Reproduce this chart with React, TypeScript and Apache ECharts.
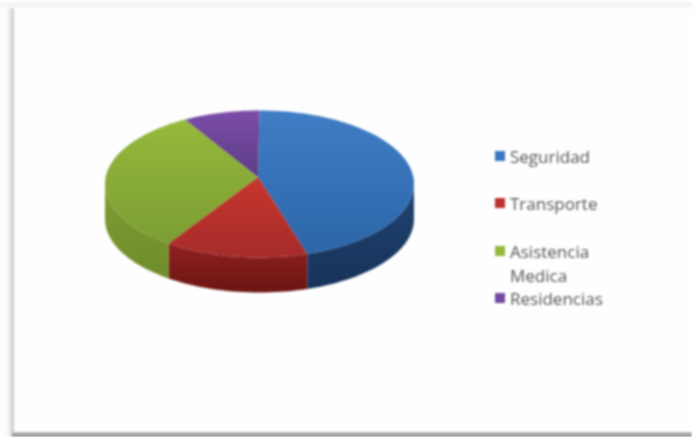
import React, { useEffect, useRef } from "react";
import * as echarts from "echarts";

const categories = ["Seguridad", "Transporte", "Asistencia Medica", "Residencias"];
const legendLabels = ["Seguridad", "Transporte", "Asistencia\nMedica", "Residencias"];
const sliceValues = [45, 15, 32, 8];
const baseColors = ["#3a78c2", "#be322d", "#94b83a", "#7449a2"];
const topLight = ["#3f7dc6", "#c8352e", "#96b93c", "#7b4ca8"];
const topDark = ["#2c66a8", "#a62c2a", "#7c9d33", "#5d3d86"];
const wallLight = ["#1f4470", "#8e2120", "#7f9e32", "#4b2f6e"];
const wallDark = ["#17335a", "#6b1614", "#6f8c2b", "#3c2558"];
const legendTops = [147, 194, 239, 289];

const CX = 259.5, CY = 184, RX = 154.5, RY = 73.5, DEPTH = 35;
const APEX: [number, number] = [258, 177];
const total = sliceValues.reduce((a, b) => a + b, 0);
const rim = (deg: number, dy = 0): [number, number] => {
  const t = (deg * Math.PI) / 180;
  return [CX + RX * Math.sin(t), CY - RY * Math.cos(t) + dy];
};
const arcPoints = (a: number, b: number, dy = 0) => {
  const n = Math.max(2, Math.ceil(Math.abs(b - a) / 2));
  return Array.from({ length: n + 1 }, (_, i) => rim(a + ((b - a) * i) / n, dy));
};
const grad = (c0: string, c1: string) =>
  new echarts.graphic.LinearGradient(0, 0, 0, 1, [
    { offset: 0, color: c0 },
    { offset: 1, color: c1 },
  ]);

const makeSeries = (idx: number) => ({
  type: "custom",
  name: categories[idx],
  coordinateSystem: "none",
  silent: true,
  itemStyle: { color: baseColors[idx] },
  data: [[sliceValues[idx]]],
  renderItem: (_p: any, api: any) => {
    const before = sliceValues.slice(0, idx).reduce((a, b) => a + b, 0);
    const a0 = (before / total) * 360;
    const a1 = a0 + (api.value(0) / total) * 360;
    const children: any[] = [];
    const w0 = Math.max(a0, 90), w1 = Math.min(a1, 270);
    if (w1 > w0) {
      children.push({
        type: "polygon",
        shape: { points: [...arcPoints(w0, w1), ...arcPoints(w1, w0, DEPTH)] },
        style: { fill: grad(wallLight[idx], wallDark[idx]) },
      });
    }
    children.push({
      type: "polygon",
      shape: { points: [APEX, ...arcPoints(a0, a1)] },
      style: { fill: grad(topLight[idx], topDark[idx]) },
    });
    return { type: "group", children };
  },
});

export default function App() {
  const ref = useRef<HTMLDivElement>(null);
  useEffect(() => {
    const chart = echarts.init(ref.current!, undefined, { renderer: "svg" });
    chart.setOption({
      animation: false,
      backgroundColor: "#ffffff",
      graphic: [
        { type: "rect", z: -10, shape: { x: 0, y: 0, width: 692, height: 437 }, style: { fill: "#fcfcfc" } },
        { type: "rect", z: -9, shape: { x: 0, y: 2, width: 692, height: 6 }, style: { fill: new echarts.graphic.LinearGradient(0, 0, 0, 1, [{ offset: 0, color: "#fcfcfc" }, { offset: 0.5, color: "#f1f1f1" }, { offset: 1, color: "#fcfcfc" }]) } },
        { type: "rect", z: -8, shape: { x: 6, y: 8, width: 8, height: 429 }, style: { fill: new echarts.graphic.LinearGradient(0, 0, 1, 0, [{ offset: 0, color: "#fcfcfc" }, { offset: 0.6, color: "#e6e6e6" }, { offset: 0.85, color: "#c6c6c6" }, { offset: 1, color: "#d8d8d8" }]) } },
        { type: "rect", z: -7, shape: { x: 12, y: 432, width: 680, height: 5 }, style: { fill: new echarts.graphic.LinearGradient(0, 0, 0, 1, [{ offset: 0, color: "#cfcfcf" }, { offset: 0.5, color: "#999999" }, { offset: 1, color: "#a8a8a8" }]) } },
        { type: "rect", z: -6, shape: { x: 14, y: 8, width: 678, height: 424 }, style: { fill: "#fefefe" } },
      ],
      legend: categories.map((name, i) => {
        const twoLines = legendLabels[i].includes("\n");
        return {
          data: [name],
          orient: "vertical",
          left: 495,
          top: legendTops[i],
          itemWidth: 10,
          itemHeight: twoLines ? 34 : 10,
          itemGap: 0,
          padding: 0,
          selectedMode: false,
          icon: twoLines ? "path://M0 0h10v10h-10zM0 34h0.01" : "rect",
          formatter: () => legendLabels[i],
          textStyle: {
            fontFamily: "Open Sans",
            fontSize: 17,
            color: "#555555",
            lineHeight: twoLines ? 24 : 18,
          },
        };
      }),
      series: sliceValues.map((_, i) => makeSeries(i)),
    });
    return () => chart.dispose();
  }, []);
  return (
    <div
      ref={ref}
      style={{ position: "fixed", left: 0, top: 0, width: 692, height: 437, filter: "blur(0.9px)" }}
    />
  );
}
